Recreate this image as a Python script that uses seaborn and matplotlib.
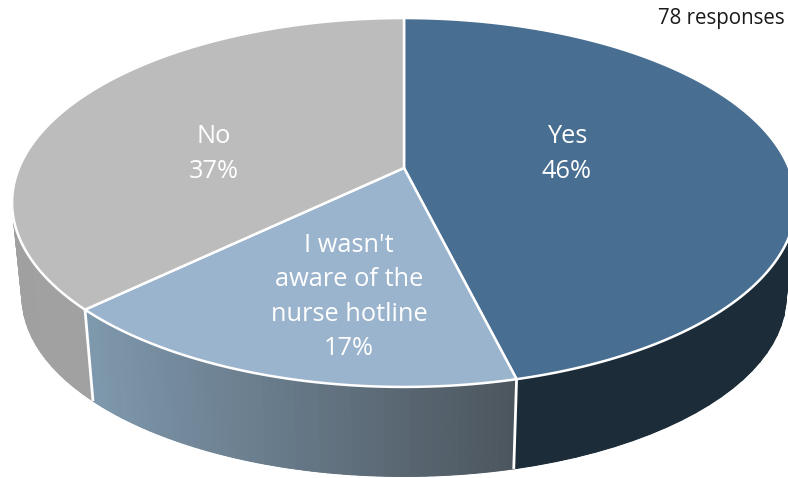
import numpy as np
import matplotlib
matplotlib.use("Agg")
import matplotlib.pyplot as plt
import seaborn as sns
from matplotlib.collections import PolyCollection
from matplotlib.colors import to_rgb
from matplotlib.patches import Polygon

# DATA
labels = ["Yes", "I wasn't\naware of the\nnurse hotline", "No"]
counts = [36, 13, 29]
note = "78 responses"

# STYLE
sns.set_theme(style="white")
plt.rcParams["font.family"] = ["Open Sans", "DejaVu Sans"]

top_colors = ["#486f92", "#9bb4cd", "#bcbcbc"]
wall_left = ["#1c2d39", "#7f99ae", "#a0a0a0"]
wall_right = ["#1c2d39", "#4c565e", "#a8a8a8"]
label_pos = [(567, 154), (349, 297), (214, 154)]

# projection of the tilted disc, in pixels of the figure
CX, CY = 404, 168
RX, RY = 385, 178
TILT = 0.187
DEPTH = 95
SHRINK = 0.975


def rim(theta, lower=False):
    # theta runs clockwise from the top of the pie
    x = np.sin(theta)
    y = np.cos(theta)
    d = 1 + TILT * y
    if lower:
        return CX + SHRINK * RX * x / d, CY + DEPTH - SHRINK * RY * y / d
    return CX + RX * x / d, CY - RY * y / d


def draw_wall(ax, start, stop, c0, c1):
    t = np.linspace(start, stop, 60)
    xt, yt = rim(t)
    xb, yb = rim(t, lower=True)
    c0, c1 = np.array(to_rgb(c0)), np.array(to_rgb(c1))

    # solid base so no white shows between the gradient strips
    base = np.column_stack([np.r_[xt, xb[::-1]], np.r_[yt, yb[::-1]]])
    ax.add_patch(Polygon(base, closed=True, facecolor=(c0 + c1) / 2, edgecolor="none", zorder=1))

    polys = []
    cols = []
    x_lo, x_hi = min(xt.min(), xb.min()), max(xt.max(), xb.max())
    for i in range(len(t) - 1):
        polys.append([(xt[i], yt[i]), (xt[i + 1], yt[i + 1]),
                      (xb[i + 1], yb[i + 1]), (xb[i], yb[i])])
        f = (xt[i] - x_lo) / (x_hi - x_lo)
        cols.append(c0 + (c1 - c0) * f)
    ax.add_collection(PolyCollection(polys, facecolors=cols, edgecolors=cols,
                                     linewidths=0.7, zorder=1.5))


fig = plt.figure(figsize=(7.88, 4.78), dpi=100)
ax = fig.add_axes([0, 0, 1, 1])
ax.set_xlim(0, 788)
ax.set_ylim(478, 0)
ax.axis("off")

total = sum(counts)
edges = 2 * np.pi * np.cumsum([0] + counts) / total

for i in range(len(counts)):
    draw_wall(ax, edges[i], edges[i + 1], wall_left[i], wall_right[i])

# white seams on the front of the wall
for e in edges[1:3]:
    xt, yt = rim(e)
    xb, yb = rim(e, lower=True)
    ax.plot([xt, xb], [yt, yb], color="white", lw=2, zorder=2, solid_capstyle="butt")

# top faces
for i in range(len(counts)):
    t = np.linspace(edges[i], edges[i + 1], 240)
    xt, yt = rim(t)
    pts = np.column_stack([np.r_[CX, xt], np.r_[CY, yt]])
    ax.add_patch(Polygon(pts, closed=True, facecolor=top_colors[i], edgecolor="white",
                         lw=1.8, joinstyle="round", zorder=3))

for name, val, (x, y) in zip(labels, counts, label_pos):
    ax.text(x, y, f"{name}\n{val / total:.0%}", color="white", fontsize=18.3, ha="center",
            va="center", linespacing=1.5, zorder=4)

ax.text(785, 18, note, color="#1a1a1a", fontsize=14.8, ha="right", va="center", zorder=4)

fig.savefig("out.png", dpi=100)
